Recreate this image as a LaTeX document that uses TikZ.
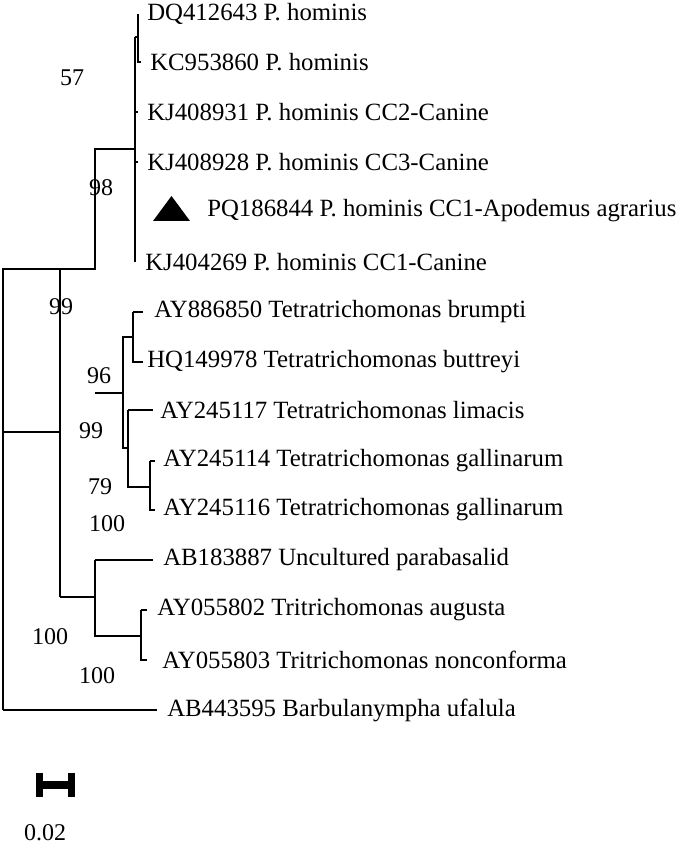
\documentclass[tikz,border=0pt]{standalone}
\usepackage{fontspec}
\setmainfont{Liberation Serif}
\tikzset{
  branch/.style={line width=1.2pt},
  taxon/.style={anchor=west,inner sep=0pt,font=\fontsize{18.6}{21}\selectfont},
  boot/.style={inner sep=0pt,font=\fontsize{18}{20}\selectfont}
}
\begin{document}
\begin{tikzpicture}[x=0.75pt,y=-0.75pt]
  \useasboundingbox (0,0) rectangle (685,852);
  % internal nodes
  \coordinate (root) at (3,432);
  \coordinate (n1) at (60,269);
  \coordinate (n2) at (95,149);
  \coordinate (hom) at (135,37);
  \coordinate (n57) at (138,37);
  \coordinate (tet) at (123,393);
  \coordinate (bru) at (133,337);
  \coordinate (lim) at (128,448);
  \coordinate (gal) at (150,487);
  \coordinate (n3) at (95,597);
  \coordinate (tri) at (141,636);
  % leaves
  \node[taxon] (l1) at (147,14) {DQ412643 P. hominis};
  \node[taxon] (l2) at (150,62) {KC953860 P. hominis};
  \node[taxon] (l3) at (147,112) {KJ408931 P. hominis CC2-Canine};
  \node[taxon] (l4) at (147,162) {KJ408928 P. hominis CC3-Canine};
  \node[taxon] (l5) at (207,211) {PQ186844 P. hominis CC1-Apodemus agrarius};
  \node[taxon] (l6) at (145,262) {KJ404269 P. hominis CC1-Canine};
  \node[taxon] (l7) at (154,312) {AY886850 Tetratrichomonas brumpti};
  \node[taxon] (l8) at (147,362) {HQ149978 Tetratrichomonas buttreyi};
  \node[taxon] (l9) at (160,410) {AY245117 Tetratrichomonas limacis};
  \node[taxon] (l10) at (163,461) {AY245114 Tetratrichomonas gallinarum};
  \node[taxon] (l11) at (163,510) {AY245116 Tetratrichomonas gallinarum};
  \node[taxon] (l12) at (163,560) {AB183887 Uncultured parabasalid};
  \node[taxon] (l13) at (157,610) {AY055802 Tritrichomonas augusta};
  \node[taxon] (l14) at (162,660) {AY055803 Tritrichomonas nonconforma};
  \node[taxon] (l15) at (167,710) {AB443595 Barbulanympha ufalula};
  % branches
  \draw[branch] (root |- l15.west) -- (root |- n1) -- (n1) (root |- l15.west) -- (l15.west -| 157,0);
  \draw[branch] (n1 |- n3) -- (n1) -- (n2 |- n1) -- (n2) -- (hom |- n2);
  \draw[branch] (n2 |- tet) -- (tet);
  \draw[branch] (hom) -- (hom |- l6.west);
  \draw[branch] (n57 |- l1.west) -- (n57 |- l2.west) -- (l2.west -| 141,0);
  \draw[branch] (hom) -- (n57);
  \draw[branch] (hom |- l3.west) -- (l3.west -| 138,0);
  \draw[branch] (hom |- l4.west) -- (l4.west -| 138,0);
  \draw[branch] (bru) -- (tet |- bru) -- (tet |- lim) -- (lim);
  \draw[branch] (bru |- l7.west) -- (l7.west -| 143,0) (bru |- l7.west) -- (bru |- l8.west) -- (l8.west -| 143,0);
  \draw[branch] (lim |- l9.west) -- (l9.west -| 153,0) (lim |- l9.west) -- (lim |- gal) -- (gal);
  \draw[branch] (gal |- l10.west) -- (l10.west -| 155,0) (gal |- l10.west) -- (gal |- l11.west) -- (l11.west -| 155,0);
  \draw[branch] (n1 |- n3) -- (n3) (n3 |- l12.west) -- (l12.west -| 153,0) (n3 |- l12.west) -- (n3 |- tri) -- (tri);
  \draw[branch] (tri |- l13.west) -- (l13.west -| 147,0) (tri |- l13.west) -- (tri |- l14.west) -- (l14.west -| 147,0);
  \draw[branch] (root) -- (n1 |- root);
  % marker
  \fill (171.5,196) -- (190,221) -- (153,221) -- cycle;
  % bootstrap values
  \node[boot] (b57) at (72,78) {57};
  \node[boot] (b98) at (101,188) {98};
  \node[boot] (b99a) at (61,307) {99};
  \node[boot] (b96) at (99,376) {96};
  \node[boot] (b99b) at (91,431) {99};
  \node[boot] (b79) at (100,487) {79};
  \node[boot] (b100a) at (107,524) {100};
  \node[boot] (b100b) at (50,637) {100};
  \node[boot] (b100c) at (97,676) {100};
  % scale bar
  \draw[line width=6pt] (39,785) -- (72,785);
  \draw[line width=5pt] (39.5,773) -- (39.5,797) (71.5,773) -- (71.5,797);
  \node[boot] (scale) at (45,833) {0.02};
\end{tikzpicture}
\end{document}
